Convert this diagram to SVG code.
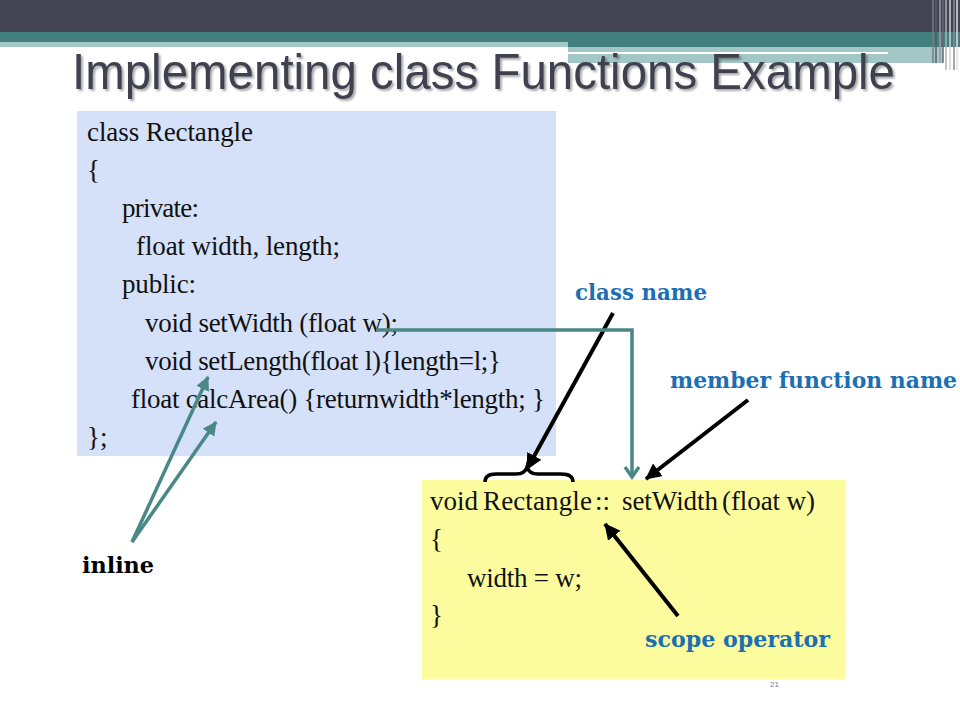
<svg xmlns="http://www.w3.org/2000/svg" width="960" height="720" viewBox="0 0 960 720">
<defs>
<style>
.code{font-family:"Liberation Serif","Times New Roman",serif;font-size:27px;fill:#111;}
.lbl{font-family:"DejaVu Serif",Georgia,serif;font-weight:bold;font-size:22px;fill:#1b6fb5;}
.blk{stroke:#000;stroke-width:4;fill:none;}
.teal{stroke:#4a8787;stroke-width:3.5;fill:none;}
</style>
<filter id="sh" x="-5%" y="-20%" width="110%" height="150%">
<feGaussianBlur in="SourceAlpha" stdDeviation="1.2"/>
<feOffset dx="2" dy="2" result="o"/>
<feComponentTransfer><feFuncA type="linear" slope="0.35"/></feComponentTransfer>
<feMerge><feMergeNode/><feMergeNode in="SourceGraphic"/></feMerge>
</filter>
<marker id="ah" markerUnits="userSpaceOnUse" markerWidth="20" markerHeight="20" refX="15" refY="8" orient="auto">
<path d="M0,0 L16,8 L0,16 Z" fill="#000"/>
</marker>
<marker id="th" markerUnits="userSpaceOnUse" markerWidth="20" markerHeight="20" refX="13" refY="7" orient="auto">
<path d="M0,0 L14,7 L0,14 Z" fill="#4a8787"/>
</marker>
<marker id="chev" markerUnits="userSpaceOnUse" markerWidth="20" markerHeight="20" refX="12" refY="9" orient="auto">
<path d="M2,2 L12,9 L2,16" fill="none" stroke="#4a8787" stroke-width="3.5"/>
</marker>
</defs>
<rect width="960" height="720" fill="#fff"/>
<g id="header">
<rect x="0" y="0" width="960" height="32" fill="#434353"/>
<rect x="0" y="32" width="960" height="15" fill="#41807f"/>
<rect x="0" y="42" width="568" height="5" fill="#a3c6c6"/>
<rect x="0" y="47" width="568" height="2" fill="#fff"/>
<rect x="568" y="47" width="375" height="16" fill="#a3c6c6"/>
<rect x="568" y="52" width="320" height="2" fill="#fff"/>
<g stroke-width="1.5">
<line x1="933" y1="0" x2="933" y2="63" stroke="#7a7a86"/>
<line x1="936" y1="0" x2="936" y2="63" stroke="#5a5a68"/>
<line x1="940" y1="0" x2="940" y2="63" stroke="#9a9aa6"/>
<line x1="943" y1="0" x2="943" y2="63" stroke="#666674"/>
<line x1="946" y1="0" x2="946" y2="70" stroke="#b0b0ba"/>
<line x1="950" y1="0" x2="950" y2="70" stroke="#cfcfd6"/>
<line x1="954" y1="0" x2="954" y2="70" stroke="#8a8a96"/>
<line x1="957" y1="0" x2="957" y2="70" stroke="#e0e0e6"/>
</g>
</g>
<g id="title">
<text x="72" y="89" font-family="'Liberation Sans',Arial,sans-serif" font-size="50" fill="#3f3f50" textLength="823" lengthAdjust="spacingAndGlyphs" filter="url(#sh)">Implementing class Functions Example</text>
</g>
<g id="class-box">
<rect x="77" y="111" width="479" height="345" fill="#d4e1f8"/>
<text class="code" x="87" y="141" textLength="166">class Rectangle</text>
<text class="code" x="87" y="179">{</text>
<text class="code" x="122" y="217" textLength="77">private:</text>
<text class="code" x="136" y="255" textLength="204">float width, length;</text>
<text class="code" x="122" y="293" textLength="74">public:</text>
<text class="code" x="145" y="332" textLength="253">void setWidth (float w);</text>
<text class="code" x="145" y="370" textLength="356">void setLength(float l){length=l;}</text>
<text class="code" x="131" y="408" textLength="414">float calcArea() {returnwidth*length; }</text>
<text class="code" x="87" y="446">};</text>
</g>
<g id="impl-box">
<rect x="422" y="480" width="423" height="199" fill="#fcfc9e"/>
<text class="code" x="430" y="510">void</text>
<text class="code" x="483" y="510" textLength="109">Rectangle</text>
<text class="code" x="595" y="510" fill="#3a8080">::</text>
<text class="code" x="622" y="510" textLength="96">setWidth</text>
<text class="code" x="722" y="510" textLength="93">(float w)</text>
<text class="code" x="430" y="548">{</text>
<text class="code" x="467" y="587" textLength="115">width = w;</text>
<text class="code" x="430" y="624">}</text>
</g>
<g id="labels">
<text class="lbl" x="575" y="300" textLength="132" lengthAdjust="spacingAndGlyphs">class name</text>
<text class="lbl" x="670" y="388" textLength="287" lengthAdjust="spacingAndGlyphs">member function name</text>
<text class="lbl" x="645" y="647" textLength="185" lengthAdjust="spacingAndGlyphs">scope operator</text>
<text x="82" y="573" font-family="'DejaVu Serif',Georgia,serif" font-weight="bold" font-size="22" fill="#000" textLength="72" lengthAdjust="spacingAndGlyphs">inline</text>
<text x="770" y="687" font-family="'Liberation Sans',Arial,sans-serif" font-size="8" fill="#5a7fa0">21</text>
</g>
<g id="connectors">
<path d="M485,482 Q485,474 496,474 L516,474 Q525,474 527,467 Q529,474 538,474 L561,474 Q573,474 573,482" fill="none" stroke="#000" stroke-width="3.5"/>
<line class="blk" x1="613" y1="313" x2="527" y2="469" marker-end="url(#ah)"/>
<line class="blk" x1="748" y1="400" x2="646" y2="479" marker-end="url(#ah)"/>
<line class="blk" x1="678" y1="616" x2="605" y2="524" marker-end="url(#ah)"/>
<polyline class="teal" points="376,330 632,330 632,477" marker-end="url(#chev)"/>
<line class="teal" x1="132" y1="542" x2="208" y2="377" marker-end="url(#th)"/>
<line class="teal" x1="132" y1="542" x2="216" y2="422" marker-end="url(#th)"/>
</g>
</svg>
